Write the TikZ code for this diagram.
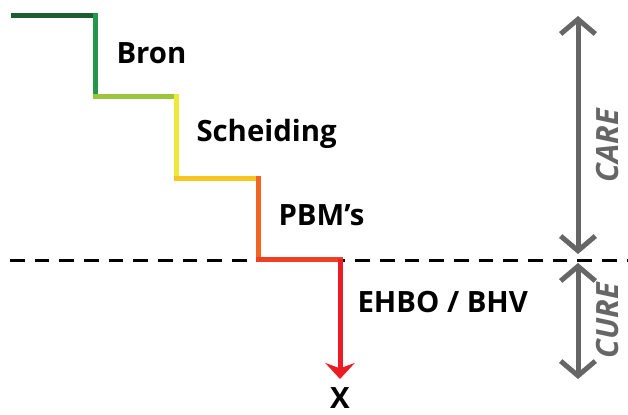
\documentclass[tikz,border=0pt]{standalone}
\usepackage{fontspec}
\setmainfont{Open Sans}
\usetikzlibrary{arrows.meta}

\definecolor{darkgreen}{RGB}{27,94,48}
\definecolor{midgreen}{RGB}{35,152,74}
\definecolor{limegreen}{RGB}{155,197,61}
\definecolor{lemon}{RGB}{240,232,56}
\definecolor{amber}{RGB}{247,197,32}
\definecolor{tangerine}{RGB}{242,101,34}
\definecolor{redorange}{RGB}{239,64,35}
\definecolor{alarmred}{RGB}{236,28,36}
\definecolor{arrowgrey}{RGB}{102,102,102}

\tikzset{every picture/.style={line width=0.75pt}}
\tikzset{
  stairline/.style={line width=3.75pt, line cap=rect},
  steplabel/.style={anchor=west, inner sep=0.75pt, font=\bfseries\fontsize{22}{26}\selectfont},
  spanarrow/.style={color=arrowgrey, line width=3.75pt,
    {Straight Barb[length=11pt,width=26pt,line width=3.75pt]}-{Straight Barb[length=11pt,width=26pt,line width=3.75pt]}},
  spanlabel/.style={rotate=90, inner sep=0.75pt, text=arrowgrey, font=\bfseries\itshape\fontsize{23}{27}\selectfont},
}

\begin{document}
\begin{tikzpicture}[x=0.75pt,y=0.75pt,yscale=-1,xscale=1]
\useasboundingbox (0,0) rectangle (628,414);

% corners of the staircase
\coordinate (s0) at (13,15);
\coordinate (s1) at (95,15);
\coordinate (s2) at (95,96);
\coordinate (s3) at (176,96);
\coordinate (s4) at (176,178);
\coordinate (s5) at (258,178);
\coordinate (s6) at (258,259);
\coordinate (s7) at (340,259);

% dividing line care / cure
\coordinate (lineleft) at (10,260);
\coordinate (lineright) at (628,260);
\draw [line width=2.25pt, dash pattern=on 11pt off 7.5pt] (lineleft) -- (lineright);

% steps
\draw [stairline, darkgreen] (s0) -- (s1);
\draw [stairline, midgreen] (s1) -- (s2);
\draw [stairline, limegreen] (s2) -- (s3);
\draw [stairline, lemon] (s3) -- (s4);
\draw [stairline, amber] (s4) -- (s5);
\draw [stairline, tangerine] (s5) -- (s6);
\draw [stairline, redorange] (s6) -- (s7);

% Text Node
\node (bron) [steplabel] at (115,53) {Bron};
% Text Node
\node (scheiding) [steplabel] at (195,134) {Scheiding};
% Text Node
\node (pbm) [steplabel] at (277,215) {PBM’s};
% Text Node
\node (ehbo) [steplabel] at (356,302) {EHBO / BHV};
% Text Node
\node (x) [inner sep=0.75pt, font=\bfseries\fontsize{22}{26}\selectfont] at (340,398) {X};

\draw [line width=3.75pt, alarmred, -{Stealth[length=12pt,width=22pt,inset=4pt]}] (s7) -- (340,379);

% care / cure spans
\coordinate (caretop) at (578,16);
\coordinate (carebot) at (578,254);
\coordinate (curetop) at (578,263);
\coordinate (curebot) at (578,379);
\draw [spanarrow] (caretop) -- (carebot);
\draw [spanarrow] (curetop) -- (curebot);

% Text Node
\node (care) [spanlabel] at (608,146) {CARE};
% Text Node
\node (cure) [spanlabel] at (608,321) {CURE};

\end{tikzpicture}
\end{document}
